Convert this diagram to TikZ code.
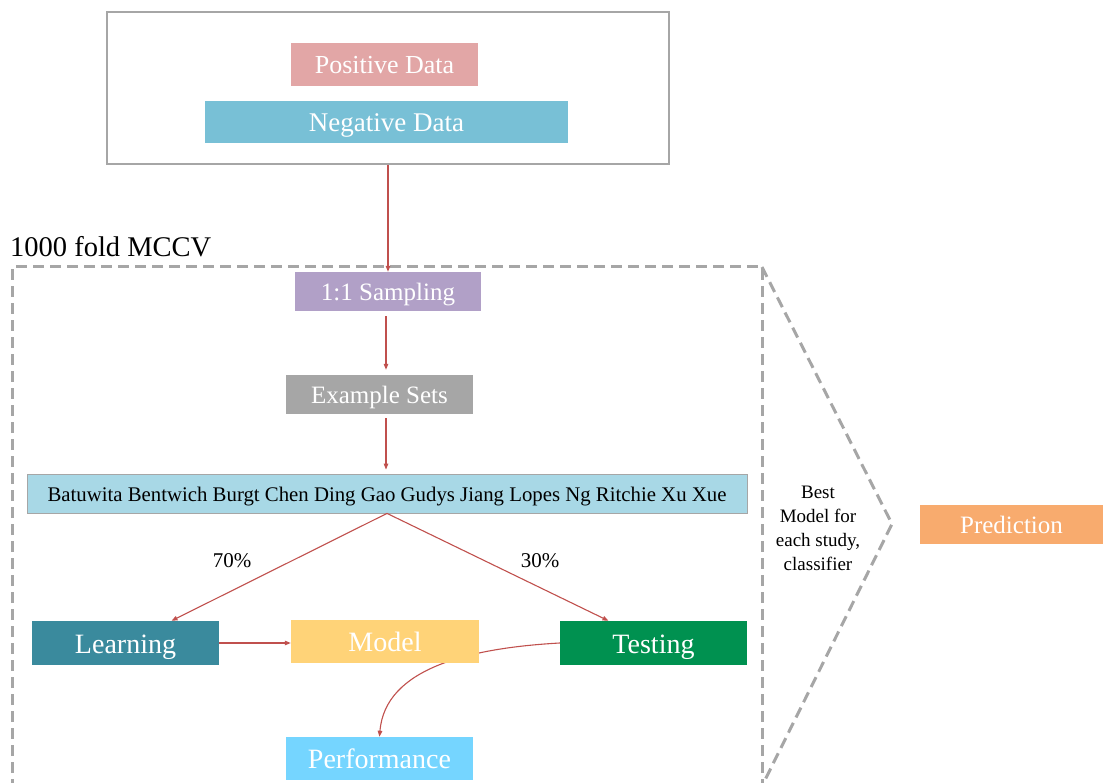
\documentclass[tikz,border=0pt]{standalone}
\usepackage{fontspec}
\setmainfont{Liberation Serif}
\usetikzlibrary{arrows.meta,calc,backgrounds}
\definecolor{posc}{RGB}{226,166,166}
\definecolor{negc}{RGB}{120,192,214}
\definecolor{sampc}{RGB}{177,160,199}
\definecolor{exc}{RGB}{166,166,166}
\definecolor{listc}{RGB}{168,216,230}
\definecolor{learnc}{RGB}{58,138,157}
\definecolor{modelc}{RGB}{255,211,120}
\definecolor{testc}{RGB}{0,145,80}
\definecolor{perfc}{RGB}{117,213,255}
\definecolor{predc}{RGB}{248,171,110}
\definecolor{arrc}{RGB}{192,80,77}
\definecolor{dashc}{RGB}{166,166,166}
\tikzset{
  box/.style={rectangle, inner sep=0pt, text=white, align=center, text depth=0pt},
  arr/.style={draw=arrc, line width=1.1pt, -{Triangle[length=6pt,width=4.5pt]}},
  dashline/.style={draw=dashc, line width=3pt, dash pattern=on 11pt off 6pt},
}
\begin{document}
\begin{tikzpicture}[x=1pt,y=-1pt]
\useasboundingbox (0,0) rectangle (1103,783);
% top box
\node[rectangle, draw=dashc, line width=2pt, minimum width=562pt, minimum height=152pt, inner sep=0pt] (topbox) at (388,88) {};
\node[box, fill=posc, minimum width=187pt, minimum height=43pt, text height=19pt, font=\fontsize{26}{30}\selectfont] (pos) at (384.5,64.5) {Positive Data};
\node[box, fill=negc, minimum width=363pt, minimum height=42pt, text height=19pt, font=\fontsize{27}{30}\selectfont] (neg) at (386.5,122) {Negative Data};
% dashed frame
\node[anchor=base west, inner sep=0pt, font=\fontsize{28.5}{32}\selectfont] (mccv) at (10,257) {1000 fold MCCV};
\coordinate (fbl) at (12,790);
\coordinate (ftl) at (12,267);
\coordinate (ftr) at (762,267);
\coordinate (fbr) at (762,790);
\coordinate (tip) at (892,524);
\coordinate (cbot) at (762,786);
\draw[dashline] (fbl) -- (ftl) -- (ftr) -- (fbr);
\draw[dashline] (ftr) -- (tip) -- (cbot);
% boxes
\node[box, fill=sampc, minimum width=186pt, minimum height=39pt, text height=18pt, font=\fontsize{25}{30}\selectfont] (samp) at (388,291.5) {1:1 Sampling};
\node[box, fill=exc, minimum width=187pt, minimum height=39pt, text height=18pt, font=\fontsize{25}{30}\selectfont] (ex) at (379.5,394.5) {Example Sets};
\node[box, fill=listc, draw=exc, line width=0.8pt, text=black, minimum width=720pt, minimum height=39pt, text height=16pt, font=\fontsize{20.8}{24}\selectfont] (list) at (387,493.5) {Batuwita Bentwich Burgt Chen Ding Gao Gudys Jiang Lopes Ng Ritchie Xu Xue};
\node[box, fill=learnc, minimum width=187pt, minimum height=44pt, text height=20pt, font=\fontsize{28}{30}\selectfont] (learn) at (125.5,643) {Learning};
\node[box, fill=testc, minimum width=187pt, minimum height=44pt, text height=20pt, font=\fontsize{28}{30}\selectfont] (test) at (653.5,643) {Testing};
\node[box, fill=perfc, minimum width=187pt, minimum height=43pt, text height=20pt, font=\fontsize{28}{30}\selectfont] (perf) at (379.5,758.5) {Performance};
% curve behind model
\draw[arr] (test.west) .. controls (470,648) and (385,668) .. (perf.north);
\node[box, fill=modelc, minimum width=188pt, minimum height=43pt, text height=20pt, font=\fontsize{28}{30}\selectfont] (model) at (385,641.5) {Model};
\node[box, fill=predc, minimum width=183pt, minimum height=39pt, text height=18pt, font=\fontsize{25}{30}\selectfont] (pred) at (1011.5,524.5) {Prediction};
% labels
\node[font=\fontsize{21}{24}\selectfont, inner sep=0pt] (p70) at (232,561) {70\%};
\node[font=\fontsize{21}{24}\selectfont, inner sep=0pt] (p30) at (540,561) {30\%};
\node[font=\fontsize{19}{24}\selectfont, align=center, inner sep=0pt] (best) at (818,528) {Best\\Model for\\each study,\\classifier};
% arrows
\draw[arr] (topbox.south) -- (samp.north);
\draw[arr, shorten <=5pt, shorten >=5pt] ([xshift=6.5pt]ex.north |- samp.south) -- ([xshift=6.5pt]ex.north);
\draw[arr, shorten <=4pt, shorten >=4pt] ([xshift=6.5pt]ex.south) -- ([xshift=6.5pt]ex.south |- list.north);
\draw[arr] (list.south) -- ([xshift=46pt]learn.north);
\draw[arr] (list.south) -- ([xshift=-45pt]test.north);
\draw[arr] (learn.east) -- (learn.east -| model.west);
\end{tikzpicture}
\end{document}
